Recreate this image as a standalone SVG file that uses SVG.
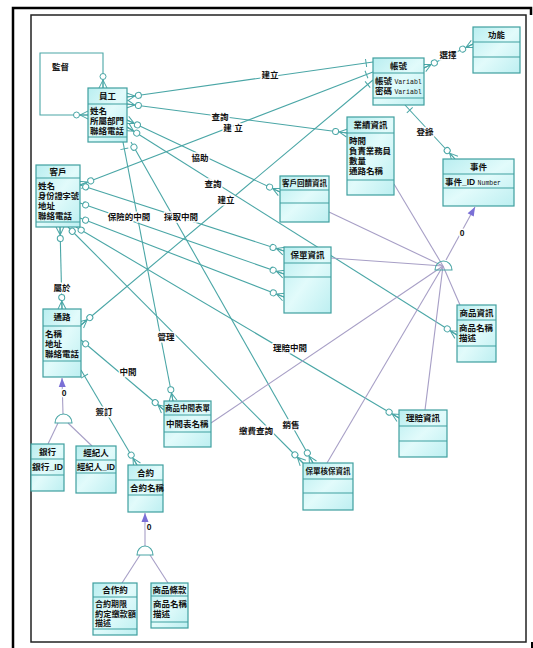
<svg xmlns="http://www.w3.org/2000/svg" width="533" height="648" viewBox="0 0 533 648">
<style>
.n rect{fill:url(#g);stroke:#3f9f9f;stroke-width:1.2}
.n line{stroke:#3f9f9f;stroke-width:1.1}
text{font-family:"Liberation Sans","Noto Sans CJK TC","Noto Sans CJK SC",sans-serif;font-size:8.5px;font-weight:bold;fill:#111}
.h{text-anchor:middle}
.s{font-size:7.5px}
.v{font-family:"Liberation Mono",monospace;font-size:6.5px;font-weight:normal}
.c path{fill:none;stroke:#4aa6a6;stroke-width:1.1}
.c .p{stroke:#a79fc6}
.lb{paint-order:stroke;stroke:#fff;stroke-width:3px;stroke-linejoin:round}
.d{fill:#c8f3f5;stroke:#9aa6b0;stroke-width:1}
</style>
<defs>
<linearGradient id="g" x1="0" y1="0" x2="1" y2="1">
<stop offset="0" stop-color="#b9eef0"/><stop offset="0.5" stop-color="#e2fbfb"/><stop offset="1" stop-color="#bdeff1"/>
</linearGradient>
<marker id="mo" markerUnits="userSpaceOnUse" viewBox="-16 -6 17 12" markerWidth="17" markerHeight="12" refX="0" refY="0" orient="auto-start-reverse">
<path d="M-8,0 L0,-4 M-8,0 L0,4 M-8,0 L0,0" fill="none" stroke="#4aa6a6" stroke-width="1"/>
<circle cx="-11.5" cy="0" r="3" fill="#fff" stroke="#4aa6a6" stroke-width="1"/>
</marker>
<marker id="o" markerUnits="userSpaceOnUse" viewBox="-10 -6 11 12" markerWidth="11" markerHeight="12" refX="0" refY="0" orient="auto-start-reverse">
<circle cx="-6" cy="0" r="3" fill="#fff" stroke="#4aa6a6" stroke-width="1"/>
</marker>
<marker id="b" markerUnits="userSpaceOnUse" viewBox="-10 -6 11 12" markerWidth="11" markerHeight="12" refX="0" refY="0" orient="auto-start-reverse">
<path d="M-7,-4 L-7,4" stroke="#4aa6a6" stroke-width="1"/>
</marker>
<marker id="ar" markerUnits="userSpaceOnUse" viewBox="-10 -5 11 10" markerWidth="11" markerHeight="10" refX="0" refY="0" orient="auto">
<path d="M-9,-3.5 L0,0 L-9,3.5 Z" fill="#7a6fd6"/>
</marker>
</defs>
<rect width="533" height="648" fill="#fff"/>
<path d="M13,648 V8 H531 V15" fill="none" stroke="#000" stroke-width="2.5"/>
<path d="M532,642 V648" stroke="#000" stroke-width="2"/>
<rect x="31" y="15" width="495" height="627" fill="#fff" stroke="#222" stroke-width="1.5"/>

<g class="c" id="connectors">
<path d="M103,88 V53 H40 V115 H88" marker-start="url(#mo)" marker-end="url(#mo)"/>
<path d="M127,97 L373,62" marker-start="url(#mo)" marker-end="url(#b)"/>
<path d="M127,104 L347,133" marker-start="url(#mo)" marker-end="url(#mo)"/>
<path d="M373,72 L80,185" marker-start="url(#b)" marker-end="url(#mo)"/>
<path d="M373,80 L81,325" marker-start="url(#b)" marker-end="url(#mo)"/>
<path d="M127,120 L280,192" marker-start="url(#mo)" marker-end="url(#mo)"/>
<path d="M127,127 L457,335" marker-start="url(#mo)" marker-end="url(#mo)"/>
<path d="M123,142 L173,401" marker-start="url(#b)" marker-end="url(#mo)"/>
<path d="M131,142 L313,463" marker-start="url(#o)" marker-end="url(#mo)"/>
<path d="M80,185 L284,251" marker-start="url(#o)" marker-end="url(#mo)"/>
<path d="M80,203 L284,274" marker-start="url(#o)" marker-end="url(#mo)"/>
<path d="M80,218 L284,297" marker-start="url(#o)" marker-end="url(#mo)"/>
<path d="M76,227 L399,418" marker-start="url(#o)" marker-end="url(#mo)"/>
<path d="M68,227 L303,463" marker-start="url(#o)" marker-end="url(#mo)"/>
<path d="M60,227 L62,309" marker-start="url(#mo)" marker-end="url(#mo)"/>
<path d="M81,340 L164,410" marker-start="url(#o)" marker-end="url(#mo)"/>
<path d="M81,370 L137,465" marker-start="url(#b)" marker-end="url(#mo)"/>
<path d="M424,68 L473,44" marker-start="url(#mo)" marker-end="url(#mo)"/>
<path d="M405,105 L455,159" marker-start="url(#b)" marker-end="url(#mo)"/>
<path class="p" d="M443,266 L329,212"/>
<path class="p" d="M443,266 L394,184"/>
<path class="p" d="M443,266 L331,258"/>
<path class="p" d="M443,266 L460,305"/>
<path class="p" d="M443,266 L425,410"/>
<path class="p" d="M443,266 L327,463"/>
<path class="p" d="M443,266 L211,423"/>
<path class="p" d="M446,260 L475,207" marker-end="url(#ar)"/>
<path class="p" d="M63,414 L62,378" marker-end="url(#ar)"/>
<path class="p" d="M58,423 L48,444"/>
<path class="p" d="M68,423 L92,446"/>
<path class="p" d="M145,546 L145,513" marker-end="url(#ar)"/>
<path class="p" d="M140,555 L122,583"/>
<path class="p" d="M150,555 L168,583"/>
<path class="d" d="M435,270 A8.5,9 0 0 1 452,270 Z"/>
<path class="d" d="M55,423 A8.5,9 0 0 1 72,423 Z"/>
<path class="d" d="M137,555 A8,9 0 0 1 153,555 Z"/>
<text class="lb" x="52" y="70">監督</text>
<text class="lb h" x="270" y="78">建立</text>
<text class="lb h" x="220" y="120">查詢</text>
<text class="lb h" x="233" y="131">建 立</text>
<text class="lb h" x="226" y="203">建立</text>
<text class="lb h" x="200" y="161">協助</text>
<text class="lb h" x="213" y="187">查詢</text>
<text class="lb h" x="166" y="340">管理</text>
<text class="lb h" x="291" y="428">銷售</text>
<text class="lb h" x="181" y="220">採取中間</text>
<text class="lb h" x="129" y="220">保險的中間</text>
<text class="lb h" x="290" y="351">理賠中間</text>
<text class="lb h" x="256" y="434">繳費查詢</text>
<text class="lb h" x="62" y="291">屬於</text>
<text class="lb h" x="128" y="375">中間</text>
<text class="lb h" x="104" y="415">簽訂</text>
<text class="lb h" x="448" y="58">選擇</text>
<text class="lb h" x="425" y="135">登錄</text>
<text class="lb h" x="462" y="236">0</text>
<text class="lb h" x="64" y="396">0</text>
<text class="lb h" x="149" y="530">0</text>
</g>

<g class="n" id="yuangong"><rect x="88" y="88" width="39" height="54"/><line x1="88" y1="104" x2="127" y2="104"/><line x1="88" y1="137" x2="127" y2="137"/>
<text class="h" x="107.5" y="99">員工</text><text x="90" y="114">姓名</text><text x="90" y="124">所屬部門</text><text x="90" y="134">聯絡電話</text></g>

<g class="n" id="kehu"><rect x="36" y="165" width="44" height="62"/><line x1="36" y1="178" x2="80" y2="178"/><line x1="36" y1="222" x2="80" y2="222"/>
<text class="h" x="58" y="175">客戶</text><text x="38" y="189">姓名</text><text x="38" y="199" textLength="41" lengthAdjust="spacingAndGlyphs">身份證字號</text><text x="38" y="209">地址</text><text x="38" y="219">聯絡電話</text></g>

<g class="n" id="tonglu"><rect x="43" y="309" width="38" height="68"/><line x1="43" y1="326" x2="81" y2="326"/><line x1="43" y1="361" x2="81" y2="361"/>
<text class="h" x="62" y="320">通路</text><text x="45" y="337">名稱</text><text x="45" y="347">地址</text><text x="45" y="357">聯絡電話</text></g>

<g class="n" id="yinhang"><rect x="31" y="444" width="33" height="47"/><line x1="31" y1="459" x2="64" y2="459"/><line x1="31" y1="475" x2="64" y2="475"/>
<text class="h" x="47.5" y="455">銀行</text><text x="32" y="470" textLength="31" lengthAdjust="spacingAndGlyphs">銀行_ID</text></g>

<g class="n" id="jingjiren"><rect x="76" y="446" width="40" height="47"/><line x1="76" y1="460" x2="116" y2="460"/><line x1="76" y1="473" x2="116" y2="473"/>
<text class="h" x="96" y="456">經紀人</text><text x="77" y="470" textLength="38" lengthAdjust="spacingAndGlyphs">經紀人_ID</text></g>

<g class="n" id="heyue"><rect x="128" y="465" width="35" height="47"/><line x1="128" y1="480" x2="163" y2="480"/><line x1="128" y1="495" x2="163" y2="495"/>
<text class="h" x="145.5" y="476">合約</text><text x="130" y="491">合約名稱</text></g>

<g class="n" id="hezuoyue"><rect x="93" y="583" width="44" height="52"/><line x1="93" y1="597" x2="137" y2="597"/><line x1="93" y1="629" x2="137" y2="629"/>
<text class="h" x="115" y="593">合作約</text><text x="95" y="607" style="font-size:8px">合約期限</text><text x="95" y="616.5" style="font-size:8px" textLength="41" lengthAdjust="spacingAndGlyphs">約定繳款額</text><text x="95" y="626" style="font-size:8px">描述</text></g>

<g class="n" id="shangpintiaokuan"><rect x="151" y="583" width="37" height="45"/><line x1="151" y1="596" x2="188" y2="596"/><line x1="151" y1="622" x2="188" y2="622"/>
<text class="h" x="169.5" y="593">商品條款</text><text x="153" y="607">商品名稱</text><text x="153" y="617">描述</text></g>

<g class="n" id="zhongjianbiao"><rect x="164" y="401" width="47" height="46"/><line x1="164" y1="415" x2="211" y2="415"/><line x1="164" y1="432" x2="211" y2="432"/>
<text class="h s" x="187.5" y="411">商品中間表單</text><text x="166" y="427">中間表名稱</text></g>

<g class="n" id="zhanghao"><rect x="373" y="58" width="51" height="47"/><line x1="373" y1="73" x2="424" y2="73"/><line x1="373" y1="98" x2="424" y2="98"/>
<text class="h" x="398.5" y="69">帳號</text><text x="375" y="84">帳號 <tspan class="v">Variabl</tspan></text><text x="375" y="94">密碼 <tspan class="v">Variabl</tspan></text></g>

<g class="n" id="gongneng"><rect x="473" y="27" width="47" height="46"/><line x1="473" y1="42" x2="520" y2="42"/><line x1="473" y1="57" x2="520" y2="57"/>
<text class="h" x="496.5" y="38">功能</text></g>

<g class="n" id="yeji"><rect x="347" y="117" width="47" height="78"/><line x1="347" y1="133" x2="394" y2="133"/><line x1="347" y1="180" x2="394" y2="180"/>
<text class="h" x="370.5" y="128">業績資訊</text><text x="349" y="144">時間</text><text x="349" y="154" textLength="42" lengthAdjust="spacingAndGlyphs">負責業務員</text><text x="349" y="164">數量</text><text x="349" y="174">通路名稱</text></g>

<g class="n" id="shijian"><rect x="443" y="159" width="71" height="47"/><line x1="443" y1="174" x2="514" y2="174"/><line x1="443" y1="188" x2="514" y2="188"/>
<text class="h" x="478.5" y="170">事件</text><text x="445" y="185">事件_ID <tspan class="v">Number</tspan></text></g>

<g class="n" id="huikui"><rect x="280" y="176" width="49" height="46"/><line x1="280" y1="190" x2="329" y2="190"/><line x1="280" y1="203" x2="329" y2="203"/>
<text class="h s" x="304.5" y="186">客戶回饋資訊</text></g>

<g class="n" id="baodan"><rect x="284" y="247" width="47" height="66"/><line x1="284" y1="263" x2="331" y2="263"/><line x1="284" y1="277" x2="331" y2="277"/>
<text class="h" x="307.5" y="258">保單資訊</text></g>

<g class="n" id="shangpin"><rect x="457" y="305" width="39" height="57"/><line x1="457" y1="320" x2="496" y2="320"/><line x1="457" y1="346" x2="496" y2="346"/>
<text class="h" x="476.5" y="316">商品資訊</text><text x="459" y="331">商品名稱</text><text x="459" y="341">描述</text></g>

<g class="n" id="lipei"><rect x="399" y="410" width="48" height="47"/><line x1="399" y1="426" x2="447" y2="426"/><line x1="399" y1="441" x2="447" y2="441"/>
<text class="h" x="423" y="421">理賠資訊</text></g>

<g class="n" id="hebao"><rect x="303" y="463" width="50" height="47"/><line x1="303" y1="479" x2="353" y2="479"/><line x1="303" y1="493" x2="353" y2="493"/>
<text class="h s" x="328" y="474">保單核保資訊</text></g>
</svg>
